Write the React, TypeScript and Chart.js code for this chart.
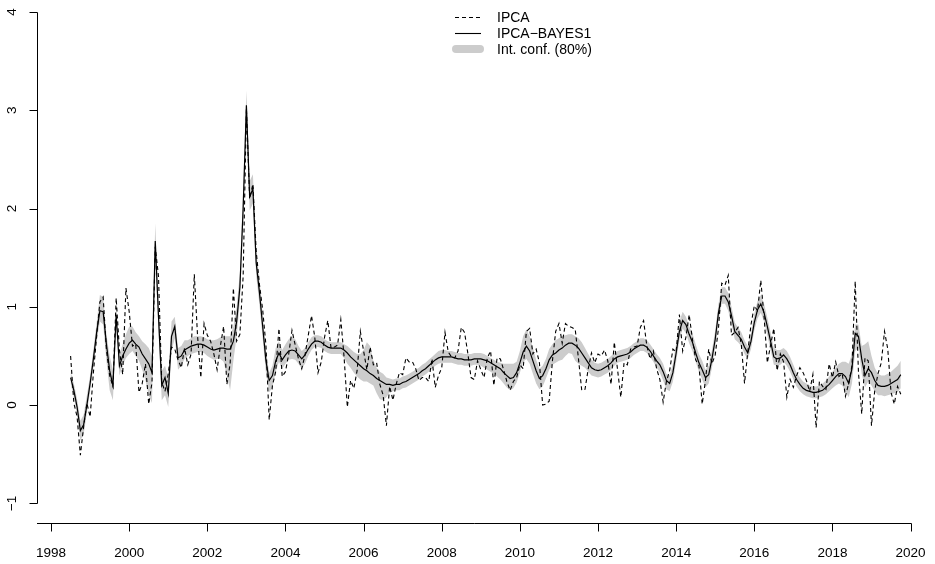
import React, { useEffect, useRef } from "react";
import { Chart, registerables } from "chart.js";

Chart.register(...registerables);

// Monthly series, first observation placed at 1998 + (START_MONTH-1)/12 on the time axis
const START_YEAR = 1998;
const START_MONTH = 7;

// IPCA (dashed)
const ipca = [
  0.50, 0.02, -0.12, -0.51, -0.22, 0.02, -0.12, 0.33,
  0.70, 1.05, 1.10, 0.56, 0.30, 0.19, 1.09, 0.56, 0.31, 1.19, 0.95, 0.60,
  0.62, 0.13, 0.22, 0.42, 0.01, 0.23, 1.61, 1.31, 0.23, 0.14, 0.32, 0.59,
  0.57, 0.46, 0.38, 0.58, 0.41, 0.52, 1.33, 0.70, 0.28, 0.83, 0.71, 0.65,
  0.52, 0.36, 0.60, 0.80, 0.21, 0.42, 1.19, 0.65, 0.72, 1.31, 3.02, 2.10,
  2.25, 1.57, 1.23, 0.97, 0.61, -0.15, 0.20, 0.34, 0.78, 0.29, 0.34, 0.52,
  0.76, 0.61, 0.47, 0.37, 0.51, 0.71, 0.91, 0.69, 0.33, 0.44, 0.69, 0.86,
  0.58, 0.59, 0.61, 0.87, 0.49, -0.02, 0.25, 0.17, 0.35, 0.75, 0.55, 0.36,
  0.59, 0.41, 0.43, 0.21, 0.10, -0.21, 0.19, 0.05, 0.21, 0.33, 0.31, 0.48,
  0.44, 0.44, 0.37, 0.25, 0.28, 0.28, 0.24, 0.47, 0.18, 0.30, 0.38, 0.74,
  0.54, 0.49, 0.48, 0.55, 0.79, 0.74, 0.53, 0.28, 0.26, 0.45, 0.36, 0.28,
  0.48, 0.55, 0.20, 0.48, 0.47, 0.36, 0.24, 0.15, 0.24, 0.28, 0.41, 0.37,
  0.75, 0.78, 0.52, 0.57, 0.43, 0.00, 0.01, 0.04, 0.45, 0.75, 0.83, 0.63,
  0.83, 0.80, 0.79, 0.77, 0.47, 0.15, 0.16, 0.37, 0.53, 0.43, 0.52, 0.50,
  0.56, 0.45, 0.21, 0.64, 0.36, 0.08, 0.43, 0.41, 0.57, 0.59, 0.60, 0.79,
  0.86, 0.60, 0.47, 0.55, 0.37, 0.26, 0.03, 0.24, 0.35, 0.57, 0.54, 0.92,
  0.55, 0.69, 0.92, 0.67, 0.46, 0.40, 0.01, 0.25, 0.57, 0.42, 0.51, 0.78,
  1.24, 1.22, 1.32, 0.71, 0.74, 0.79, 0.62, 0.22, 0.54, 0.82, 1.01, 0.96,
  1.27, 0.90, 0.43, 0.61, 0.78, 0.35, 0.52, 0.44, 0.08, 0.26, 0.18, 0.30,
  0.38, 0.33, 0.25, 0.14, 0.31, -0.23, 0.24, 0.19, 0.16, 0.42, 0.28, 0.44,
  0.29, 0.32, 0.09, 0.22, 0.40, 1.26, 0.33, -0.09, 0.48, 0.45, -0.21, 0.15,
  0.32, 0.43, 0.75, 0.57, 0.13, 0.01, 0.19, 0.11,
];

// IPCA-BAYES1 (solid)
const bayes = [
  0.28, 0.15, -0.02, -0.26, -0.20, 0.00, 0.22, 0.47,
  0.74, 0.96, 0.95, 0.62, 0.35, 0.20, 0.92, 0.40, 0.50, 0.57, 0.63, 0.66,
  0.62, 0.59, 0.52, 0.47, 0.42, 0.33, 1.67, 0.90, 0.20, 0.28, 0.12, 0.70,
  0.80, 0.48, 0.50, 0.56, 0.58, 0.60, 0.61, 0.62, 0.62, 0.61, 0.59, 0.57,
  0.56, 0.57, 0.58, 0.58, 0.57, 0.57, 0.65, 0.85, 1.20, 2.00, 3.05, 2.12,
  2.20, 1.45, 1.15, 0.80, 0.45, 0.25, 0.30, 0.45, 0.53, 0.46, 0.51, 0.55,
  0.56, 0.55, 0.51, 0.47, 0.51, 0.57, 0.62, 0.65, 0.65, 0.64, 0.61, 0.59,
  0.58, 0.58, 0.58, 0.58, 0.56, 0.53, 0.49, 0.46, 0.43, 0.40, 0.37, 0.35,
  0.32, 0.30, 0.27, 0.25, 0.23, 0.21, 0.21, 0.20, 0.21, 0.21, 0.23, 0.24,
  0.26, 0.28, 0.30, 0.32, 0.35, 0.37, 0.40, 0.43, 0.46, 0.48, 0.49, 0.49,
  0.49, 0.49, 0.48, 0.47, 0.47, 0.46, 0.46, 0.46, 0.47, 0.47, 0.47, 0.46,
  0.45, 0.43, 0.41, 0.39, 0.37, 0.33, 0.30, 0.27, 0.28, 0.33, 0.43, 0.54,
  0.60, 0.55, 0.45, 0.35, 0.27, 0.30, 0.37, 0.46, 0.51, 0.53, 0.56, 0.58,
  0.61, 0.63, 0.63, 0.61, 0.58, 0.53, 0.48, 0.43, 0.38, 0.36, 0.35, 0.36,
  0.38, 0.40, 0.43, 0.47, 0.49, 0.50, 0.51, 0.52, 0.54, 0.57, 0.59, 0.61,
  0.61, 0.59, 0.55, 0.50, 0.45, 0.41, 0.34, 0.25, 0.22, 0.33, 0.53, 0.75,
  0.86, 0.82, 0.72, 0.64, 0.53, 0.43, 0.36, 0.28, 0.31, 0.47, 0.67, 0.94,
  1.11, 1.11, 1.05, 0.91, 0.75, 0.71, 0.67, 0.59, 0.53, 0.65, 0.84, 0.97,
  1.03, 0.94, 0.80, 0.65, 0.49, 0.47, 0.48, 0.51, 0.47, 0.41, 0.33, 0.26,
  0.21, 0.17, 0.15, 0.14, 0.13, 0.13, 0.14, 0.15, 0.18, 0.21, 0.25, 0.29,
  0.32, 0.32, 0.29, 0.22, 0.37, 0.73, 0.70, 0.47, 0.30, 0.37, 0.33, 0.25,
  0.20, 0.19, 0.19, 0.20, 0.22, 0.24, 0.26, 0.31,
];

// 80% interval, lower bound
const bandLow = [
  0.22, 0.08, -0.10, -0.36, -0.30, -0.08, 0.14, 0.38,
  0.64, 0.85, 0.82, 0.45, 0.15, 0.05, 0.78, 0.30, 0.40, 0.48, 0.52, 0.55,
  0.50, 0.45, 0.36, 0.25, 0.10, 0.02, 1.48, 0.75, 0.05, 0.10, -0.02, 0.55,
  0.68, 0.36, 0.40, 0.47, 0.50, 0.52, 0.53, 0.54, 0.54, 0.53, 0.50, 0.48,
  0.46, 0.47, 0.47, 0.44, 0.30, 0.15, 0.45, 0.70, 1.05, 1.85, 2.90, 1.98,
  2.05, 1.32, 1.02, 0.68, 0.33, 0.13, 0.18, 0.34, 0.44, 0.37, 0.42, 0.46,
  0.47, 0.46, 0.42, 0.37, 0.42, 0.50, 0.56, 0.59, 0.59, 0.58, 0.55, 0.53,
  0.52, 0.52, 0.52, 0.52, 0.48, 0.42, 0.38, 0.33, 0.29, 0.26, 0.24, 0.24,
  0.22, 0.20, 0.12, 0.06, 0.05, 0.08, 0.13, 0.14, 0.15, 0.15, 0.17, 0.18,
  0.20, 0.22, 0.24, 0.26, 0.29, 0.31, 0.34, 0.37, 0.40, 0.42, 0.43, 0.43,
  0.43, 0.43, 0.42, 0.41, 0.41, 0.40, 0.40, 0.40, 0.41, 0.41, 0.40, 0.38,
  0.36, 0.34, 0.32, 0.29, 0.26, 0.22, 0.18, 0.15, 0.17, 0.23, 0.33, 0.44,
  0.47, 0.42, 0.32, 0.22, 0.16, 0.19, 0.27, 0.36, 0.41, 0.43, 0.45, 0.46,
  0.50, 0.53, 0.52, 0.45, 0.42, 0.40, 0.38, 0.34, 0.30, 0.29, 0.28, 0.29,
  0.31, 0.33, 0.36, 0.40, 0.43, 0.44, 0.45, 0.46, 0.48, 0.51, 0.53, 0.55,
  0.55, 0.53, 0.49, 0.44, 0.38, 0.33, 0.25, 0.16, 0.14, 0.24, 0.44, 0.66,
  0.78, 0.73, 0.63, 0.55, 0.44, 0.34, 0.26, 0.18, 0.22, 0.38, 0.58, 0.85,
  1.03, 1.03, 0.96, 0.82, 0.67, 0.64, 0.60, 0.52, 0.47, 0.57, 0.76, 0.88,
  0.94, 0.85, 0.71, 0.56, 0.41, 0.40, 0.41, 0.44, 0.40, 0.34, 0.26, 0.19,
  0.14, 0.11, 0.09, 0.08, 0.07, 0.07, 0.08, 0.09, 0.11, 0.14, 0.17, 0.20,
  0.22, 0.20, 0.14, 0.08, 0.22, 0.55, 0.58, 0.32, 0.18, 0.24, 0.20, 0.14,
  0.10, 0.10, 0.09, 0.10, 0.11, 0.12, 0.13, 0.17,
];

// 80% interval, upper bound
const bandHigh = [
  0.34, 0.22, 0.06, -0.16, -0.10, 0.10, 0.30, 0.56,
  0.84, 1.12, 1.10, 0.72, 0.50, 0.36, 1.00, 0.52, 0.62, 0.72, 0.80, 0.80,
  0.74, 0.70, 0.65, 0.62, 0.58, 0.50, 1.85, 1.05, 0.35, 0.40, 0.28, 0.85,
  0.90, 0.58, 0.60, 0.66, 0.66, 0.68, 0.70, 0.70, 0.70, 0.69, 0.67, 0.66,
  0.66, 0.67, 0.69, 0.70, 0.70, 0.70, 0.80, 1.00, 1.35, 2.20, 3.20, 2.28,
  2.35, 1.58, 1.28, 0.92, 0.56, 0.33, 0.40, 0.58, 0.65, 0.56, 0.62, 0.67,
  0.70, 0.67, 0.60, 0.55, 0.58, 0.64, 0.69, 0.71, 0.71, 0.70, 0.67, 0.65,
  0.64, 0.64, 0.64, 0.64, 0.62, 0.60, 0.57, 0.54, 0.52, 0.52, 0.56, 0.64,
  0.60, 0.45, 0.38, 0.34, 0.32, 0.28, 0.27, 0.26, 0.27, 0.27, 0.29, 0.30,
  0.32, 0.34, 0.36, 0.38, 0.41, 0.43, 0.46, 0.49, 0.52, 0.55, 0.56, 0.56,
  0.55, 0.55, 0.54, 0.53, 0.53, 0.52, 0.52, 0.52, 0.53, 0.53, 0.53, 0.52,
  0.50, 0.48, 0.46, 0.44, 0.43, 0.42, 0.42, 0.42, 0.42, 0.44, 0.55, 0.70,
  0.77, 0.70, 0.58, 0.46, 0.37, 0.40, 0.47, 0.57, 0.62, 0.66, 0.68, 0.70,
  0.71, 0.72, 0.72, 0.70, 0.68, 0.64, 0.58, 0.52, 0.46, 0.43, 0.42, 0.43,
  0.45, 0.47, 0.50, 0.53, 0.55, 0.56, 0.57, 0.58, 0.60, 0.63, 0.65, 0.68,
  0.68, 0.66, 0.62, 0.57, 0.52, 0.48, 0.42, 0.32, 0.30, 0.42, 0.63, 0.85,
  0.95, 0.90, 0.80, 0.73, 0.62, 0.52, 0.45, 0.36, 0.40, 0.56, 0.76, 1.03,
  1.20, 1.20, 1.14, 1.00, 0.84, 0.79, 0.74, 0.66, 0.60, 0.73, 0.93, 1.06,
  1.12, 1.03, 0.89, 0.74, 0.58, 0.56, 0.56, 0.58, 0.55, 0.49, 0.41, 0.33,
  0.28, 0.24, 0.22, 0.20, 0.19, 0.19, 0.20, 0.22, 0.25, 0.29, 0.34, 0.38,
  0.42, 0.44, 0.44, 0.42, 0.52, 0.82, 0.82, 0.60, 0.62, 0.65, 0.50, 0.38,
  0.32, 0.30, 0.30, 0.32, 0.34, 0.37, 0.40, 0.45,
];

const xTicks = [1998, 2000, 2002, 2004, 2006, 2008, 2010, 2012, 2014, 2016, 2018, 2020];
const yTicks = [-1, 0, 1, 2, 3, 4];
const legendLabels = ["IPCA", "IPCA\u2212BAYES1", "Int. conf. (80%)"];

const BAND_COLOR = "#cccccc";
const AXIS_FONT = '13.5px "Liberation Sans", Arial, Helvetica, sans-serif';
const LEGEND_FONT = '14px "Liberation Sans", Arial, Helvetica, sans-serif';

const timeOf = (i: number) => START_YEAR + (START_MONTH - 1 + i) / 12;
const toPoints = (arr: number[]) => arr.map((v, i) => ({ x: timeOf(i), y: v }));
const fmt = (v: number) => (v < 0 ? "\u2212" + Math.abs(v) : String(v));

const rPlugin = {
  id: "rStyleAxes",
  afterDraw(chart: any) {
    const ctx = chart.ctx as CanvasRenderingContext2D;
    const xs = chart.scales.x;
    const ys = chart.scales.y;
    const area = chart.chartArea;
    ctx.save();
    ctx.strokeStyle = "#000";
    ctx.fillStyle = "#000";
    ctx.lineWidth = 1;
    ctx.font = AXIS_FONT;

    // y axis
    const ax = Math.round(area.left) + 0.5;
    ctx.beginPath();
    ctx.moveTo(ax, Math.round(ys.getPixelForValue(yTicks[yTicks.length - 1])) + 0.5);
    ctx.lineTo(ax, Math.round(ys.getPixelForValue(yTicks[0])) + 0.5);
    yTicks.forEach((v) => {
      const p = Math.round(ys.getPixelForValue(v)) + 0.5;
      ctx.moveTo(ax, p);
      ctx.lineTo(ax - 8, p);
    });
    ctx.stroke();
    ctx.textAlign = "center";
    ctx.textBaseline = "middle";
    yTicks.forEach((v) => {
      const p = ys.getPixelForValue(v);
      ctx.save();
      ctx.translate(ax - 25, p);
      ctx.rotate(-Math.PI / 2);
      ctx.fillText(fmt(v), 0, 0);
      ctx.restore();
    });

    // x axis
    const ay = Math.round(area.bottom) + 0.5;
    ctx.beginPath();
    ctx.moveTo(area.left, ay);
    ctx.lineTo(Math.round(xs.getPixelForValue(xTicks[xTicks.length - 1])) + 0.5, ay);
    xTicks.forEach((v) => {
      const p = Math.round(xs.getPixelForValue(v)) + 0.5;
      ctx.moveTo(p, ay);
      ctx.lineTo(p, ay + 8);
    });
    ctx.stroke();
    xTicks.forEach((v) => {
      ctx.fillText(String(v), xs.getPixelForValue(v), ay + 30);
    });

    // legend
    ctx.font = LEGEND_FONT;
    const lx0 = 455;
    const lx1 = 481;
    const tx = 497;
    const rows = [17, 33, 49];
    ctx.textAlign = "left";
    ctx.textBaseline = "middle";
    ctx.lineWidth = 1.1;
    ctx.beginPath();
    ctx.setLineDash([4, 3]);
    ctx.moveTo(lx0, rows[0] + 0.5);
    ctx.lineTo(lx1, rows[0] + 0.5);
    ctx.stroke();
    ctx.setLineDash([]);
    ctx.beginPath();
    ctx.moveTo(lx0, rows[1] + 0.5);
    ctx.lineTo(lx1, rows[1] + 0.5);
    ctx.stroke();
    ctx.beginPath();
    ctx.strokeStyle = BAND_COLOR;
    ctx.lineWidth = 8;
    ctx.lineCap = "round";
    ctx.moveTo(lx0 + 1, rows[2]);
    ctx.lineTo(lx1 - 1, rows[2]);
    ctx.stroke();
    legendLabels.forEach((t, k) => ctx.fillText(t, tx, rows[k] + 1));
    ctx.restore();
  },
};

export default function App() {
  const ref = useRef<HTMLCanvasElement | null>(null);
  useEffect(() => {
    if (!ref.current) return;
    const chart = new Chart(ref.current, {
      type: "line",
      data: {
        datasets: [
          {
            label: "low",
            data: toPoints(bandLow),
            borderColor: "rgba(0,0,0,0)",
            borderWidth: 0,
            pointRadius: 0,
            fill: false,
            order: 4,
          },
          {
            label: legendLabels[2],
            data: toPoints(bandHigh),
            borderColor: "rgba(0,0,0,0)",
            backgroundColor: BAND_COLOR,
            borderWidth: 0,
            pointRadius: 0,
            fill: "-1",
            order: 3,
          },
          {
            label: legendLabels[0],
            data: toPoints(ipca),
            borderColor: "#000",
            borderWidth: 1.1,
            borderDash: [4, 3],
            pointRadius: 0,
            fill: false,
            order: 1,
          },
          {
            label: legendLabels[1],
            data: toPoints(bayes),
            borderColor: "#000",
            borderWidth: 1.2,
            pointRadius: 0,
            fill: false,
            order: 0,
          },
        ],
      },
      options: {
        animation: false,
        responsive: false,
        devicePixelRatio: 1,
        layout: { padding: { left: 37, right: 1, top: 12, bottom: 41 } },
        scales: {
          x: { type: "linear", display: false, min: 1997.64, max: 2020.6 },
          y: { type: "linear", display: false, min: -1.2, max: 4 },
        },
        elements: { line: { tension: 0 }, point: { radius: 0 } },
        plugins: { legend: { display: false }, tooltip: { enabled: false } },
      },
      plugins: [rPlugin],
    });
    return () => chart.destroy();
  }, []);
  return (
    <div style={{ position: "fixed", left: 0, top: 0, width: 935, height: 564, background: "#fff" }}>
      <canvas ref={ref} width={935} height={564} style={{ width: 935, height: 564, display: "block" }} />
    </div>
  );
}
